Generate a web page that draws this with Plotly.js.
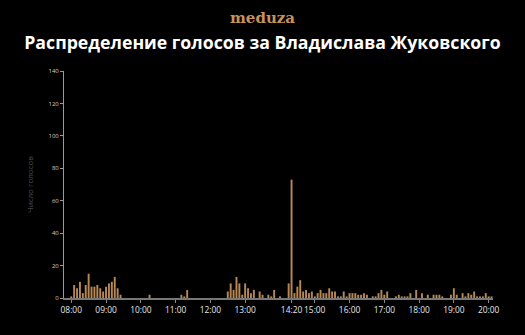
<!DOCTYPE html>
<html>
<head>
<meta charset="utf-8">
<script src="https://cdn.plot.ly/plotly-3.0.1.min.js"></script>
<style>
html,body{margin:0;padding:0;background:#000;}
#chart{width:525px;height:335px;}
</style>
</head>
<body>
<div id="chart"></div>
<script>
const times = ["08:00","08:05","08:10","08:15","08:20","08:25","08:30","08:35","08:40","08:45","08:50","08:55",
"09:00","09:05","09:10","09:15","09:20","09:25","10:15","11:10","11:15","11:20",
"12:30","12:35","12:40","12:45","12:50","12:55","13:00","13:05","13:10","13:15","13:25","13:30","13:40","13:45","13:50",
"14:00","14:15","14:20","14:25","14:30","14:35","14:40","14:45","14:50","14:55",
"15:00","15:05","15:10","15:15","15:20","15:25","15:30","15:35","15:40","15:45","15:50","15:55",
"16:00","16:05","16:10","16:15","16:20","16:25","16:30","16:40","16:45","16:50","16:55",
"17:00","17:05","17:20","17:25","17:30","17:35","17:40","17:45","17:55",
"18:05","18:15","18:25","18:30","18:35","18:40","18:55",
"19:00","19:05","19:15","19:20","19:25","19:30","19:35","19:40","19:45","19:50","19:55",
"20:00","20:05"];
const votes = [1,8,6,10,3,8,15,7,7,8,6,4,
7,9,10,13,6,2,2,2,1,5,
4,9,5,13,9,2,9,6,3,5,4,2,2,1,5,
1,9,73,3,7,11,4,5,3,4,
1,3,5,3,3,6,4,4,1,1,4,1,
3,3,3,2,2,3,2,1,1,3,5,
2,4,1,2,1,1,1,3,5,
3,2,2,2,2,1,2,
6,2,3,1,3,2,4,1,1,1,3,
1,1];
const tickTimes = ["08:00","09:00","10:00","11:00","12:00","13:00","14:20","15:00","16:00","17:00","18:00","19:00","20:00"];
const yTicks = [0,20,40,60,80,100,120,140];
const titleText = "Распределение голосов за Владислава Жуковского";
const yTitle = "Число голосов";
const logoText = "meduza";

const day = "2024-09-08 ";
const xs = times.map(t => day + t);

const trace = {
  type: "bar",
  x: xs,
  y: votes,
  width: 200000,
  marker: {color: "#b78854", line: {width: 0}},
  hoverinfo: "x+y"
};

const layout = {
  width: 525, height: 335,
  paper_bgcolor: "#000", plot_bgcolor: "#000",
  margin: {l: 64, r: 32, t: 71, b: 37},
  showlegend: false,
  title: {
    text: "<b>" + titleText + "</b>",
    font: {family: "Open Sans", size: 17.7, color: "#fff"},
    x: 0.5, xanchor: "center",
    y: 1 - 43/335, yref: "container", yanchor: "middle"
  },
  xaxis: {
    type: "date",
    range: [day + "07:47:30", day + "20:07:30"],
    tickmode: "array",
    tickvals: tickTimes.map(t => day + t),
    ticktext: tickTimes,
    tickangle: 0,
    ticks: "outside", ticklen: 3, tickcolor: "#888", tickwidth: 1,
    tickfont: {family: "Open Sans", size: 8.4, color: "#e6e6e6"},
    showline: true, linecolor: "#777", linewidth: 2,
    showgrid: false, zeroline: false, fixedrange: true
  },
  yaxis: {
    range: [0, 140],
    tickmode: "array", tickvals: yTicks,
    ticks: "outside", ticklen: 3, tickcolor: "#999", tickwidth: 1,
    tickfont: {family: "Open Sans", size: 6, color: "#d0d0d0"},
    showline: true, linecolor: "#999", linewidth: 1,
    showgrid: false, zeroline: false, fixedrange: true,
    title: {text: yTitle, font: {family: "Open Sans", size: 8, color: "#4a4a4a"}, standoff: 13}
  },
  annotations: [{
    text: "<b>" + logoText + "</b>",
    xref: "paper", yref: "paper",
    x: (262.5 - 64) / (525 - 64 - 32), y: 1 + (71 - 18)/(335 - 71 - 37),
    xanchor: "center", yanchor: "middle",
    showarrow: false,
    font: {family: "DejaVu Serif", size: 15, color: "#c8925a"}
  }]
};

Plotly.newPlot("chart", [trace], layout, {displayModeBar: false, staticPlot: true});
</script>
</body>
</html>
